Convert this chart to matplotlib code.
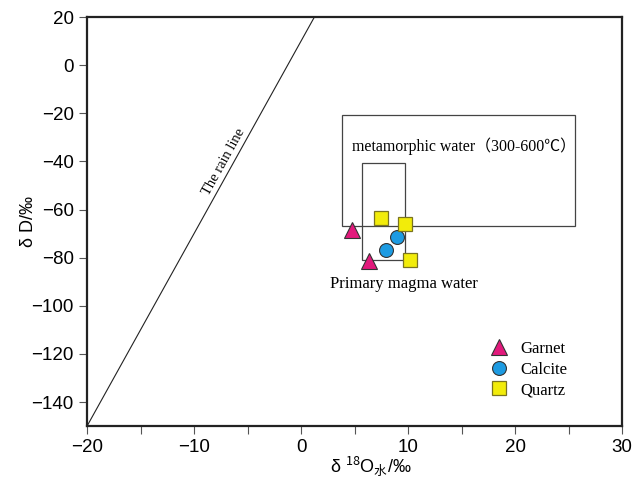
import numpy as np
import matplotlib
matplotlib.use("Agg")
import matplotlib.pyplot as plt
from matplotlib.patches import Rectangle
from matplotlib.ticker import MultipleLocator

plt.rcParams['mathtext.fontset'] = 'custom'
plt.rcParams['mathtext.rm'] = 'Noto Sans CJK SC'
plt.rcParams['mathtext.it'] = 'Noto Sans CJK SC'
plt.rcParams['mathtext.bf'] = 'Noto Sans CJK SC'

# data
garnet_x = [4.8, 6.35]
garnet_y = [-68.3, -81.2]
calcite_x = [9.0, 7.95]
calcite_y = [-71.6, -77.0]
quartz_x = [7.45, 9.7, 10.2]
quartz_y = [-63.6, -65.8, -81.0]

# meteoric water line dD = 8 d18O + 10
rain_x = np.array([-20, 1.25])
rain_y = 8 * rain_x + 10

# fields (x0, y0, x1, y1)
meta_box = (3.8, -66.8, 25.6, -20.5)
magma_box = (5.7, -80.8, 9.7, -40.5)

serif = ['Liberation Serif', 'Noto Sans CJK SC']
sans = ['Liberation Sans', 'Noto Sans CJK SC']

fig = plt.figure(figsize=(6.32, 4.87), dpi=100)
ax = fig.add_axes([0.1377, 0.125, 0.8465, 0.84])

ax.plot(rain_x, rain_y, color='#222222', lw=0.8)

for b in (meta_box, magma_box):
    ax.add_patch(Rectangle((b[0], b[1]), b[2] - b[0], b[3] - b[1],
                           fill=False, edgecolor='#444444', lw=0.9))

ax.plot(garnet_x, garnet_y, ls='none', marker='^', ms=12,
        mfc='#E2197C', mec='#333333', mew=0.8, label='Garnet')
ax.plot(calcite_x, calcite_y, ls='none', marker='o', ms=10,
        mfc='#1D9BE2', mec='#333333', mew=0.8, label='Calcite')
ax.plot(quartz_x, quartz_y, ls='none', marker='s', ms=10,
        mfc='#F2EC0A', mec='#7A7420', mew=0.9, label='Quartz')

ax.text(4.8, -33.5, 'metamorphic water（300-600℃）', family=serif, fontsize=11.4,
        ha='left', va='center')
ax.text(2.7, -91, 'Primary magma water', family=serif, fontsize=12,
        ha='left', va='center')

# label along the rain line
ang = np.degrees(np.arctan2(8 * 2.42, 10.7))
ax.text(-6.7, -41.5, 'The rain line', family=serif, fontsize=10.5,
        rotation=ang, rotation_mode='anchor', ha='center', va='bottom')

ax.set_xlim(-20, 30)
ax.set_ylim(-150, 20)
ax.xaxis.set_major_locator(MultipleLocator(10))
ax.xaxis.set_minor_locator(MultipleLocator(5))
ax.yaxis.set_major_locator(MultipleLocator(20))
ax.tick_params(which='both', direction='out', length=6, width=0.8, color='#555555')
ax.tick_params(axis='y', which='both', right=False)
for lab in ax.get_xticklabels() + ax.get_yticklabels():
    lab.set_family(sans)
    lab.set_fontsize(13.5)
for s in ax.spines.values():
    s.set_linewidth(1.6)
    s.set_color('#222222')

ax.set_ylabel('δ D/‰', family=sans, fontsize=13)
ax.yaxis.set_label_coords(-0.093, 0.5)
ax.set_xlabel(r'δ $^{18}$O$_{水}$/‰', family=sans, fontsize=13)
ax.xaxis.set_label_coords(0.53, -0.07)

ax.legend(loc='upper left', bbox_to_anchor=(0.723, 0.245), frameon=False,
          prop={'family': serif, 'size': 12}, handletextpad=0.7,
          labelspacing=0.28, handlelength=1.2)

fig.savefig('out.png', dpi=100)
